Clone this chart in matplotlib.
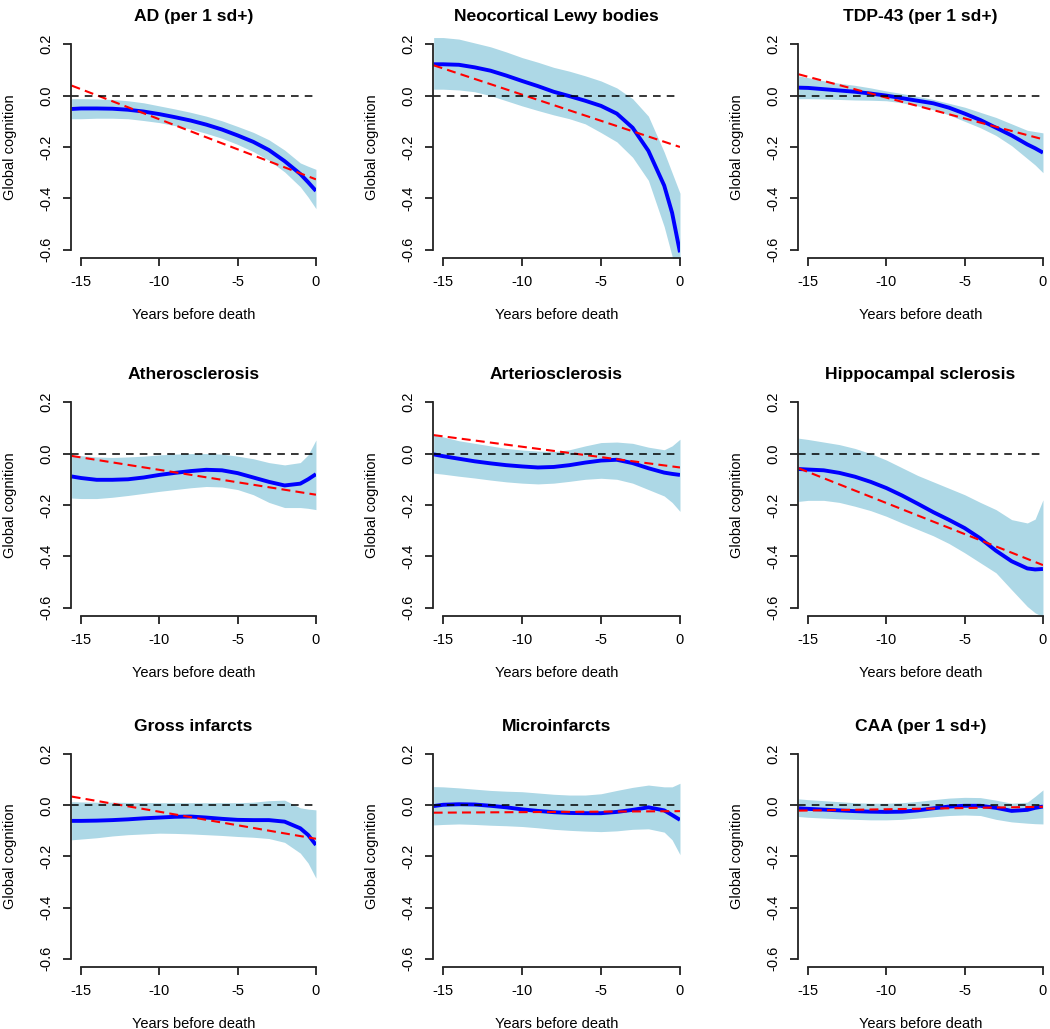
import numpy as np
import matplotlib
matplotlib.use("Agg")
import matplotlib.pyplot as plt

plt.rcParams['font.family'] = ['Liberation Sans', 'DejaVu Sans']

# years before death (common grid for all panels)
years = [-15.6, -15, -14, -13, -12, -11, -10, -9, -8, -7, -6, -5, -4, -3, -2, -1, -0.5, 0]

titles = ["AD (per 1 sd+)", "Neocortical Lewy bodies", "TDP-43 (per 1 sd+)",
          "Atherosclerosis", "Arteriosclerosis", "Hippocampal sclerosis",
          "Gross infarcts", "Microinfarcts", "CAA (per 1 sd+)"]

# smoothed estimate (blue), lower / upper band, linear fit endpoints (red)
ad_mean = [-0.052, -0.05, -0.05, -0.051, -0.055, -0.062, -0.072, -0.084, -0.097, -0.113, -0.132, -0.155, -0.18, -0.212, -0.255, -0.305, -0.337, -0.371]
ad_low = [-0.09, -0.09, -0.088, -0.088, -0.09, -0.097, -0.105, -0.117, -0.13, -0.147, -0.166, -0.19, -0.218, -0.252, -0.297, -0.355, -0.395, -0.44]
ad_up = [-0.012, -0.012, -0.013, -0.015, -0.02, -0.028, -0.04, -0.052, -0.065, -0.08, -0.098, -0.12, -0.143, -0.172, -0.212, -0.262, -0.275, -0.287]
ad_lin = [0.039, -0.326]

lb_mean = [0.122, 0.122, 0.12, 0.11, 0.097, 0.078, 0.057, 0.037, 0.015, -0.002, -0.02, -0.04, -0.07, -0.125, -0.215, -0.35, -0.456, -0.61]
lb_low = [0.025, 0.025, 0.022, 0.015, 0.0, -0.02, -0.04, -0.058, -0.075, -0.09, -0.11, -0.144, -0.18, -0.24, -0.33, -0.51, -0.625, -0.85]
lb_up = [0.226, 0.226, 0.22, 0.205, 0.19, 0.17, 0.148, 0.13, 0.11, 0.095, 0.077, 0.057, 0.03, -0.012, -0.08, -0.22, -0.3, -0.38]
lb_lin = [0.118, -0.2]

tdp_mean = [0.031, 0.03, 0.025, 0.02, 0.015, 0.008, 0.0, -0.01, -0.02, -0.03, -0.047, -0.07, -0.095, -0.125, -0.155, -0.19, -0.205, -0.222]
tdp_low = [-0.012, -0.012, -0.013, -0.015, -0.017, -0.018, -0.02, -0.028, -0.04, -0.055, -0.075, -0.1, -0.125, -0.155, -0.195, -0.245, -0.27, -0.3]
tdp_up = [0.077, 0.07, 0.058, 0.048, 0.04, 0.03, 0.018, 0.008, -0.003, -0.015, -0.03, -0.045, -0.065, -0.085, -0.11, -0.135, -0.14, -0.145]
tdp_lin = [0.083, -0.17]

ath_mean = [-0.089, -0.095, -0.102, -0.102, -0.1, -0.093, -0.083, -0.075, -0.068, -0.063, -0.065, -0.076, -0.093, -0.11, -0.124, -0.117, -0.1, -0.08]
ath_low = [-0.173, -0.175, -0.175, -0.17, -0.163, -0.155, -0.147, -0.14, -0.133, -0.128, -0.13, -0.14, -0.16, -0.19, -0.21, -0.21, -0.213, -0.218]
ath_up = [-0.005, -0.008, -0.013, -0.015, -0.013, -0.01, -0.005, -0.002, 0.0, 0.0, -0.002, -0.01, -0.02, -0.035, -0.044, -0.035, -0.005, 0.053]
ath_lin = [-0.009, -0.16]

art_mean = [-0.003, -0.01, -0.02, -0.03, -0.038, -0.045, -0.05, -0.054, -0.052, -0.045, -0.035, -0.027, -0.024, -0.037, -0.057, -0.074, -0.079, -0.083]
art_low = [-0.076, -0.08, -0.088, -0.095, -0.103, -0.11, -0.115, -0.118, -0.115, -0.108, -0.1, -0.096, -0.1, -0.115, -0.14, -0.165, -0.19, -0.225]
art_up = [0.072, 0.065, 0.05, 0.04, 0.03, 0.02, 0.014, 0.01, 0.008, 0.015, 0.03, 0.043, 0.045, 0.04, 0.025, 0.015, 0.03, 0.056]
art_lin = [0.072, -0.054]

hs_mean = [-0.06, -0.062, -0.065, -0.075, -0.09, -0.11, -0.134, -0.163, -0.195, -0.228, -0.258, -0.29, -0.33, -0.378, -0.419, -0.447, -0.451, -0.449]
hs_low = [-0.186, -0.182, -0.182, -0.19, -0.205, -0.222, -0.244, -0.27, -0.295, -0.32, -0.35, -0.386, -0.425, -0.464, -0.53, -0.595, -0.62, -0.635]
hs_up = [0.06, 0.055, 0.045, 0.035, 0.02, 0.0, -0.025, -0.055, -0.085, -0.11, -0.135, -0.16, -0.19, -0.218, -0.257, -0.27, -0.255, -0.18]
hs_lin = [-0.057, -0.434]

gi_mean = [-0.061, -0.061, -0.06, -0.058, -0.055, -0.051, -0.048, -0.045, -0.044, -0.048, -0.053, -0.057, -0.058, -0.058, -0.064, -0.09, -0.116, -0.155]
gi_low = [-0.135, -0.132, -0.127, -0.12, -0.115, -0.112, -0.109, -0.11, -0.112, -0.115, -0.118, -0.122, -0.125, -0.13, -0.145, -0.187, -0.226, -0.285]
gi_up = [0.014, 0.013, 0.012, 0.012, 0.011, 0.011, 0.01, 0.01, 0.01, 0.01, 0.01, 0.01, 0.012, 0.018, 0.02, -0.01, -0.015, -0.018]
gi_lin = [0.034, -0.131]

mi_mean = [-0.003, 0.002, 0.004, 0.003, -0.002, -0.008, -0.016, -0.022, -0.027, -0.03, -0.031, -0.031, -0.026, -0.018, -0.008, -0.02, -0.038, -0.057]
mi_low = [-0.077, -0.075, -0.073, -0.075, -0.078, -0.08, -0.083, -0.088, -0.094, -0.098, -0.101, -0.103, -0.1, -0.094, -0.092, -0.105, -0.135, -0.193]
mi_up = [0.073, 0.072, 0.068, 0.063, 0.058, 0.055, 0.053, 0.048, 0.043, 0.04, 0.04, 0.045, 0.058, 0.07, 0.079, 0.072, 0.072, 0.086]
mi_lin = [-0.029, -0.023]

caa_mean = [-0.012, -0.014, -0.017, -0.02, -0.023, -0.025, -0.026, -0.025, -0.02, -0.012, -0.005, -0.002, -0.002, -0.01, -0.022, -0.018, -0.01, -0.005]
caa_low = [-0.044, -0.047, -0.05, -0.053, -0.055, -0.057, -0.057, -0.055, -0.05, -0.045, -0.04, -0.038, -0.04, -0.055, -0.065, -0.07, -0.072, -0.073]
caa_up = [0.025, 0.022, 0.018, 0.014, 0.01, 0.008, 0.008, 0.01, 0.015, 0.022, 0.028, 0.031, 0.03, 0.02, 0.008, 0.012, 0.035, 0.06]
caa_lin = [-0.021, -0.006]

means = [ad_mean, lb_mean, tdp_mean, ath_mean, art_mean, hs_mean, gi_mean, mi_mean, caa_mean]
lows = [ad_low, lb_low, tdp_low, ath_low, art_low, hs_low, gi_low, mi_low, caa_low]
ups = [ad_up, lb_up, tdp_up, ath_up, art_up, hs_up, gi_up, mi_up, caa_up]
lins = [ad_lin, lb_lin, tdp_lin, ath_lin, art_lin, hs_lin, gi_lin, mi_lin, caa_lin]

x_ticks = [-15, -10, -5, 0]
y_ticks = [-0.6, -0.4, -0.2, 0.0, 0.2]

fig = plt.figure(figsize=(10.5, 10.29), dpi=100)

# axes boxes in figure fractions (left, bottom, width, height)
col_left = [0.0676, 0.4124, 0.760]
col_width = [0.2333, 0.2352, 0.2333]
row_bottom = [0.7493, 0.4014, 0.0603]
row_height = [0.2157, 0.2157, 0.2148]

x = np.array(years)
for i in range(9):
    r, c = divmod(i, 3)
    ax = fig.add_axes([col_left[c], row_bottom[r], col_width[c], row_height[r]])

    ax.fill_between(x, lows[i], ups[i], color='lightblue', lw=0)
    ax.plot(x, means[i], color='blue', lw=2.8, solid_capstyle='butt')
    ax.plot([x[0], x[-1]], lins[i], color='red', lw=1.5, dashes=(4.3, 2.5))
    ax.axhline(0, color='black', lw=1.1, dashes=(5, 4))

    ax.set_xlim(-15.64, 0)
    ax.set_ylim(-0.632, 0.232)
    ax.set_xticks(x_ticks)
    ax.set_xticklabels([str(v) for v in x_ticks])
    ax.set_yticks(y_ticks)
    ax.set_yticklabels(["%.1f" % v for v in y_ticks])

    for s in ['top', 'right']:
        ax.spines[s].set_visible(False)
    ax.spines['bottom'].set_bounds(-15, 0)
    ax.spines['left'].set_bounds(-0.6, 0.2)
    for s in ['bottom', 'left']:
        ax.spines[s].set_linewidth(1.3)
        ax.spines[s].set_color('#222222')

    ax.tick_params(direction='out', length=5.5, width=1.3, color='#222222', labelsize=10.5)
    ax.tick_params(axis='x', pad=7)
    ax.tick_params(axis='y', pad=7, labelrotation=90)
    for lab in ax.get_yticklabels():
        lab.set_va('center')

    ax.set_title(titles[i], fontsize=12.6, fontweight='bold', pad=11)
    ax.set_xlabel("Years before death", fontsize=10.5)
    ax.set_ylabel("Global cognition", fontsize=10.5)
    ax.xaxis.set_label_coords(0.5, -0.225)
    ax.yaxis.set_label_coords(-0.22, 0.5)

fig.savefig("out.png", dpi=100)
